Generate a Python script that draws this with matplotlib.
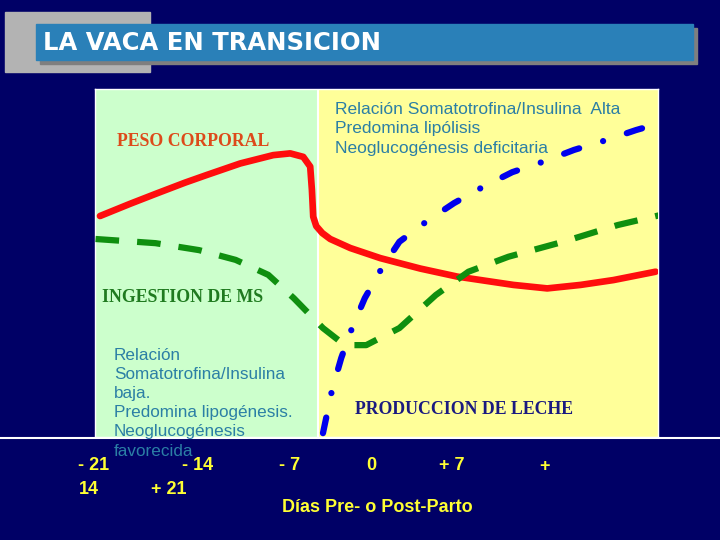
import matplotlib
matplotlib.use("Agg")
import matplotlib.pyplot as plt
from matplotlib.patches import Rectangle

plt.rcParams['lines.scale_dashes'] = False

# days relative to calving, values in relative units (0-100)
peso_dias = [-20.62, -18.34, -16.30, -14.15, -12.50, -9.96, -7.45, -6.16, -5.17, -4.64, -4.51,
             -4.41, -4.18, -3.72, -3.12, -1.59, 0.69, 3.73, 6.53, 10.81, 13.38, 15.91,
             18.42, 21.62]
peso_val = [63.5, 67.0, 70.0, 73.1, 75.3, 78.6, 81.0, 81.5, 80.5, 77.7, 71.0,
            63.3, 60.6, 58.6, 56.9, 54.3, 51.4, 48.4, 46.1, 43.7, 42.7, 43.7,
            45.1, 47.5]

ms_dias = [-20.96, -16.40, -13.09, -10.31, -7.83, -5.89, -3.67, -2.01, -0.38, 2.14, 4.91,
           7.39, 10.43, 14.59, 18.73, 22.0]
ms_val = [56.9, 55.7, 53.7, 50.9, 46.6, 39.9, 31.3, 26.4, 26.4, 31.3, 40.8,
          47.5, 51.8, 56.1, 60.9, 63.8]

leche_dias = [-3.67, -2.98, -2.28, -1.46, -0.49, 0.77, 2.14, 4.19, 6.29, 8.51, 10.72,
              13.07, 15.42, 17.86, 20.13, 21.23]
leche_val = [1.1, 13.5, 22.7, 31.3, 39.9, 48.3, 56.1, 61.9, 67.2, 71.9, 76.1,
             79.1, 82.5, 85.3, 88.2, 89.4]

corte_dias = -4.03  # pre / post parto split of the panel
tick_labels = ["- 21", "- 14", "- 7", "0", "+ 7", "+"]
tick_labels2 = ["14", "+ 21"]
nota_pre = ["Relación", "Somatotrofina/Insulina", "baja.", "Predomina lipogénesis.",
            "Neoglucogénesis", "favorecida"]

navy = "#000066"
fig = plt.figure(figsize=(7.2, 5.4), dpi=100, facecolor=navy)

# background axes in pixel coordinates for the slide decoration
bg = fig.add_axes([0, 0, 1, 1])
bg.set_xlim(0, 720)
bg.set_ylim(540, 0)
bg.axis("off")
bg.add_patch(Rectangle((5, 12), 145, 60, color="#b3b3b3", zorder=1))
bg.add_patch(Rectangle((40, 28), 657, 36, color="#7f7f7f", zorder=2))
bg.add_patch(Rectangle((36, 24), 657, 36, color="#2a80b8", zorder=3))
bg.text(43, 43, "LA VACA EN TRANSICION", color="white", fontsize=17.5,
        fontweight="bold", family="DejaVu Sans", va="center", ha="left", zorder=4)

ax = fig.add_axes([95 / 720, (540 - 437) / 540, (658 - 95) / 720, (437 - 89) / 540])
ax.set_xlim(-21, 21.8)
ax.set_ylim(0, 100)
ax.axvspan(-21, corte_dias, color="#ccffcc", zorder=0)
ax.axvspan(corte_dias, 21.8, color="#ffff99", zorder=0)
ax.axvline(corte_dias, color="white", lw=1.5, zorder=1)
ax.set_xticks([])
ax.set_yticks([])
for s in ax.spines.values():
    s.set_color("white")
    s.set_linewidth(1)

ax.plot(peso_dias, peso_val, color="#ff0d0d", lw=4.8, solid_capstyle="round",
        solid_joinstyle="round", zorder=3)
ax.plot(ms_dias, ms_val, color="#0f8f0f", lw=4.5, linestyle=(0, (17, 13)),
        dash_capstyle="butt", zorder=3)
ax.plot(leche_dias, leche_val, color="#0000ee", lw=4.5,
        linestyle=(0, (11.5, 18, 0.01, 18)), dash_capstyle="round", zorder=4)

# overlay for texts, same pixel coordinates
top = fig.add_axes([0, 0, 1, 1])
top.set_xlim(0, 720)
top.set_ylim(540, 0)
top.axis("off")

serif = "Liberation Serif"
sans = "Liberation Sans"
teal = "#2b7fa5"
top.text(117, 141, "PESO CORPORAL", color="#dd4a1a", fontsize=12.8, family=serif,
         fontweight="bold", va="center", ha="left")
top.text(102, 297, "INGESTION DE MS", color="#1f7a1f", fontsize=12.8, family=serif,
         fontweight="bold", va="center", ha="left")
top.text(355, 410, "PRODUCCION DE LECHE", color="#1a1a80", fontsize=12.8, family=serif,
         fontweight="bold", va="center", ha="left")
top.text(335, 102, "Relación Somatotrofina/Insulina  Alta\nPredomina lipólisis\nNeoglucogénesis deficitaria",
         color=teal, fontsize=12.5, family=sans, va="top", ha="left", linespacing=1.36)

# white line across the slide
top.plot([0, 720], [437.5, 437.5], color="white", lw=1.5)

for i, linea in enumerate(nota_pre):
    top.text(114, 355 + 19.2 * i, linea, color=teal, fontsize=12.3, family=sans,
             va="center", ha="left")

yellow = "#ffff33"
xs = [94, 198, 290, 371, 452, 545]
for lab, x in zip(tick_labels, xs):
    top.text(x, 466, lab, color=yellow, fontsize=13, fontweight="bold", family=sans,
             ha="center", va="center")
for lab, x in zip(tick_labels2, [89, 169]):
    top.text(x, 489, lab, color=yellow, fontsize=13, fontweight="bold", family=sans,
             ha="center", va="center")
top.text(377, 508, "Días Pre- o Post-Parto", color=yellow, fontsize=13, fontweight="bold",
         family=sans, ha="center", va="center")

fig.savefig("out.png", dpi=100, facecolor=navy)
